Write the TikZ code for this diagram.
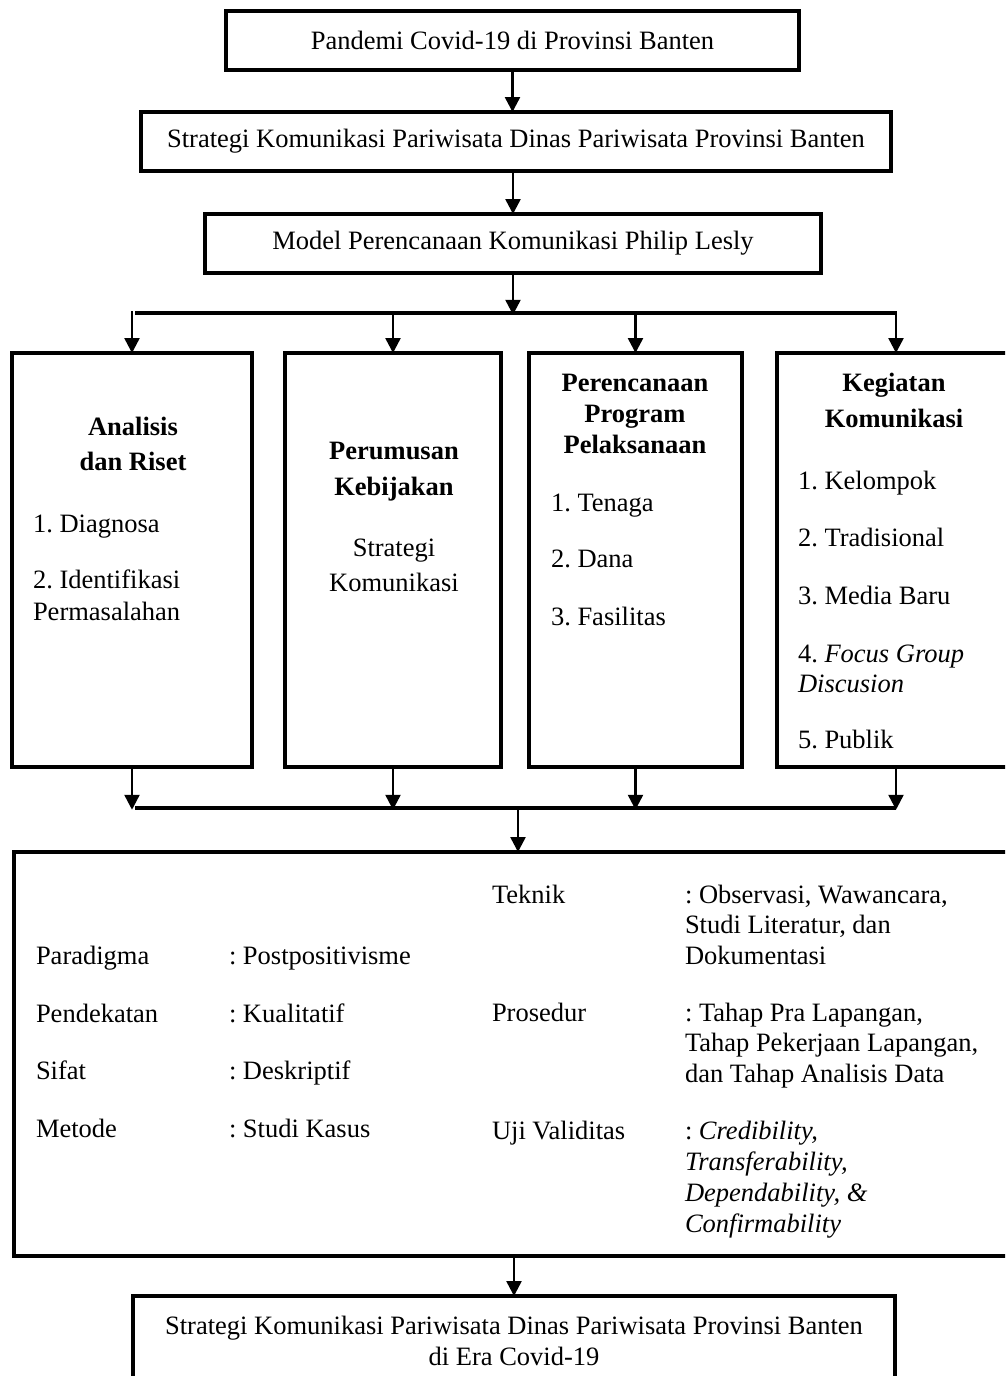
\documentclass[tikz,border=0pt]{standalone}
\usepackage{fontspec}
\setmainfont{Liberation Serif}
\usetikzlibrary{arrows.meta}
\frenchspacing
\begin{document}
\begin{tikzpicture}[x=1pt,y=-1pt,
  every node/.style={font=\fontsize{26.5}{30.5}\selectfont\frenchspacing},
  box/.style={draw, line width=3.5pt, inner sep=0pt, outer sep=0pt},
  lt/.style={inner sep=0pt, outer sep=0pt, anchor=base west},
  ct/.style={inner sep=0pt, outer sep=0pt, anchor=base},
  hd/.style={ct, font=\fontsize{26.5}{30.5}\selectfont\bfseries},
  arr/.style={line width=2.5pt, -{Triangle[length=15pt,width=15pt]}},
  bar/.style={line width=3.5pt}]
\useasboundingbox (0,0) rectangle (1005,1376);
\clip (0,0) rectangle (1005,1376);

% top chain
\node[box, minimum width=573pt, minimum height=59pt] (n1) at (512.5,40.5) {Pandemi Covid-19 di Provinsi Banten};
\node[box, minimum width=750pt, minimum height=59pt] (n2) at (516,141.5) {Strategi Komunikasi Pariwisata Dinas Pariwisata Provinsi Banten};
\node[box, minimum width=616pt, minimum height=59pt] (n3) at (513,243.5) {Model Perencanaan Komunikasi Philip Lesly};

% four columns
\node[box, minimum width=240pt, minimum height=414pt] (bA) at (132,560) {};
\node[box, minimum width=216pt, minimum height=414pt] (bB) at (393,560) {};
\node[box, minimum width=213pt, minimum height=414pt] (bC) at (635.5,560) {};
\node[box, minimum width=238pt, minimum height=414pt] (bD) at (896,560) {};

% big method box and final box
\node[box, minimum width=1001pt, minimum height=404pt] (big) at (514.5,1054) {};
\node[box, minimum width=762pt, minimum height=89pt] (fin) at (514,1340.5) {};

% bars
\coordinate (t1) at (135,313);
\coordinate (t2) at (896,313);
\coordinate (u1) at (135,808);
\coordinate (u2) at (896,808);
\draw[bar] (t1) -- (t2);
\draw[bar] (u1) -- (u2);

% connectors
\draw[arr] (n1.south) -- (n1.south |- n2.north);
\draw[arr] (n2.south -| n3.north) -- (n3.north);
\draw[arr] (n3.south) -- ([yshift=-1.75pt]n3.south |- t1);
\foreach \b in {bA,bB,bC,bD}{
  \draw[arr] ([yshift=1.75pt]\b.north |- t1) -- (\b.north);
  \draw[arr] (\b.south) -- ([yshift=-1.75pt]\b.south |- u1);
}
\coordinate (um) at (518,808);
\draw[arr] ([yshift=1.75pt]um) -- (um |- big.north);
\draw[arr] (big.south -| fin.north) -- (fin.north);

% column A
\node[hd] (a1) at (133,435) {Analisis};
\node[hd] (a2) at (133,470) {dan Riset};
\node[lt] (a3) at (33,532) {1. Diagnosa};
\node[lt] (a4) at (33,588) {2. Identifikasi};
\node[lt] (a5) at (33,620) {Permasalahan};

% column B
\node[hd] (b1) at (394,459) {Perumusan};
\node[hd] (b2) at (394,495) {Kebijakan};
\node[ct] (b3) at (394,556) {Strategi};
\node[ct] (b4) at (394,591) {Komunikasi};

% column C
\node[hd] (c1) at (635,391) {Perencanaan};
\node[hd] (c2) at (635,422) {Program};
\node[hd] (c3) at (635,453) {Pelaksanaan};
\node[lt] (c4) at (551,511) {1. Tenaga};
\node[lt] (c5) at (551,567) {2. Dana};
\node[lt] (c6) at (551,625) {3. Fasilitas};

% column D
\node[hd] (d1) at (894,391) {Kegiatan};
\node[hd] (d2) at (894,427) {Komunikasi};
\node[lt] (d3) at (798,489) {1. Kelompok};
\node[lt] (d4) at (798,546) {2. Tradisional};
\node[lt] (d5) at (798,604) {3. Media Baru};
\node[lt] (d6) at (798,662) {4. \textit{Focus Group}};
\node[lt] (d7) at (798,692) {\textit{Discusion}};
\node[lt] (d8) at (798,748) {5. Publik};

% big box left
\node[lt] (m1) at (36,964) {Paradigma};
\node[lt] (m1v) at (229,964) {: Postpositivisme};
\node[lt] (m2) at (36,1022) {Pendekatan};
\node[lt] (m2v) at (229,1022) {: Kualitatif};
\node[lt] (m3) at (36,1079) {Sifat};
\node[lt] (m3v) at (229,1079) {: Deskriptif};
\node[lt] (m4) at (36,1137) {Metode};
\node[lt] (m4v) at (229,1137) {: Studi Kasus};

% big box right
\node[lt] (r1) at (492,903) {Teknik};
\node[lt] (r1a) at (685,903) {: Observasi, Wawancara,};
\node[lt] (r1b) at (685,933.5) {Studi Literatur, dan};
\node[lt] (r1c) at (685,964) {Dokumentasi};
\node[lt] (r2) at (492,1021) {Prosedur};
\node[lt] (r2a) at (685,1021) {: Tahap Pra Lapangan,};
\node[lt] (r2b) at (685,1051.5) {Tahap Pekerjaan Lapangan,};
\node[lt] (r2c) at (685,1082) {dan Tahap Analisis Data};
\node[lt] (r3) at (492,1139) {Uji Validitas};
\node[lt] (r3a) at (685,1139) {: \textit{Credibility,}};
\node[lt] (r3b) at (685,1170) {\textit{Transferability,}};
\node[lt] (r3c) at (685,1201) {\textit{Dependability, \&}};
\node[lt] (r3d) at (685,1232) {\textit{Confirmability}};

% final box text
\node[ct] (f1) at (514,1334) {Strategi Komunikasi Pariwisata Dinas Pariwisata Provinsi Banten};
\node[ct] (f2) at (514,1365) {di Era Covid-19};
\end{tikzpicture}
\end{document}
